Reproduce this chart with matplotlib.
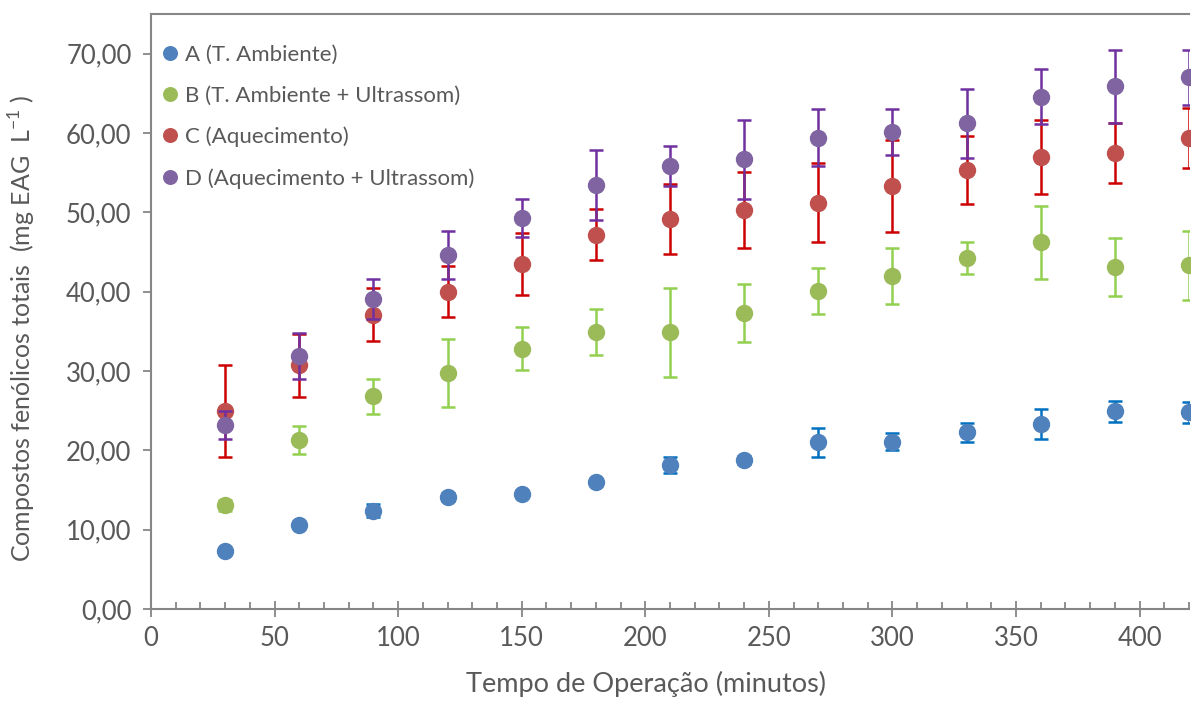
import numpy as np
import matplotlib
matplotlib.use('Agg')
from matplotlib import pyplot as plt
from matplotlib.ticker import MultipleLocator, FuncFormatter

plt.rcParams['font.family'] = ['Lato', 'DejaVu Sans']

tempo = [30, 60, 90, 120, 150, 180, 210, 240, 270, 300, 330, 360, 390, 420]

a_vals = [7.3, 10.6, 12.4, 14.1, 14.5, 16.0, 18.2, 18.8, 21.0, 21.1, 22.3, 23.3, 24.9, 24.8]
a_err = [0.2, 0.3, 0.8, 0.5, 0.3, 0.3, 1.0, 0.5, 1.8, 1.1, 1.2, 1.9, 1.3, 1.3]

b_vals = [13.1, 21.3, 26.8, 29.7, 32.8, 34.9, 34.9, 37.3, 40.1, 42.0, 44.2, 46.2, 43.1, 43.3]
b_err = [0.7, 1.8, 2.2, 4.3, 2.7, 2.9, 5.6, 3.7, 2.9, 3.5, 2.0, 4.6, 3.7, 4.4]

c_vals = [24.9, 30.7, 37.1, 40.0, 43.5, 47.2, 49.2, 50.3, 51.2, 53.3, 55.3, 57.0, 57.5, 59.4]
c_err = [5.8, 4.0, 3.3, 3.2, 3.9, 3.2, 4.4, 4.8, 5.0, 5.8, 4.3, 4.7, 3.8, 3.8]

d_vals = [23.2, 31.9, 39.1, 44.6, 49.3, 53.4, 55.8, 56.7, 59.4, 60.1, 61.2, 64.6, 65.9, 67.0]
d_err = [1.8, 2.9, 2.5, 3.0, 2.4, 4.4, 2.5, 5.0, 3.6, 2.9, 4.3, 3.5, 4.6, 3.5]

series = [
    ('A (T. Ambiente)', a_vals, a_err, '#4F81BD', '#0070C0'),
    ('B (T. Ambiente + Ultrassom)', b_vals, b_err, '#9BBB59', '#92D050'),
    ('C (Aquecimento)', c_vals, c_err, '#C0504D', '#CC0000'),
    ('D (Aquecimento + Ultrassom)', d_vals, d_err, '#8064A2', '#7030A0'),
]

grey = '#595959'
spine_col = '#868686'

fig = plt.figure(figsize=(11.91, 7.02), dpi=100)
ax = fig.add_axes([151 / 1191, 93 / 702, 1038 / 1191, 595 / 702])

for i, (label, vals, err, col, ecol) in enumerate(series):
    ax.errorbar(tempo, vals, yerr=err, fmt='none', ecolor=ecol,
                elinewidth=1.8, capsize=5, capthick=1.8, zorder=2 + 2 * i)
    ax.plot(tempo, vals, 'o', color=col, markersize=11.5, label=label,
            zorder=3 + 2 * i, clip_on=False)

ax.set_xlim(0, 420)
ax.set_ylim(0, 75)
ax.xaxis.set_major_locator(MultipleLocator(50))
ax.xaxis.set_minor_locator(MultipleLocator(10))
ax.yaxis.set_major_locator(MultipleLocator(10))
ax.yaxis.set_major_formatter(FuncFormatter(lambda v, p: f'{v:.2f}'.replace('.', ',')))

for s in ['left', 'bottom', 'top']:
    ax.spines[s].set_color(spine_col)
    ax.spines[s].set_linewidth(1.5)
ax.spines['right'].set_visible(False)

ax.tick_params(axis='x', which='major', direction='inout', length=12, width=1.3,
               color=spine_col, labelcolor=grey, labelsize=18.5, pad=6)
ax.tick_params(axis='x', which='minor', direction='in', length=5, width=1.3,
               color=spine_col)
ax.tick_params(axis='y', which='major', direction='out', length=6, width=1.3,
               color=spine_col, labelcolor=grey, labelsize=18.5, pad=8)

ax.set_xlabel('Tempo de Operação (minutos)', fontsize=19.5, color=grey)
ax.xaxis.set_label_coords(0.477, -0.104)
ax.set_ylabel('Compostos fenólicos totais  (mg EAG  L$^{\\mathregular{-1}}$ )',
              fontsize=18, color=grey)
ax.yaxis.set_label_coords(-0.109, 0.472)

leg = ax.legend(loc='upper left', bbox_to_anchor=(-0.006, 0.975), frameon=False,
                fontsize=16, handletextpad=0.23, labelspacing=0.95,
                markerscale=0.85, handlelength=0.9, borderaxespad=0.3)
for t in leg.get_texts():
    t.set_color(grey)

fig.savefig('out.png', dpi=100)
